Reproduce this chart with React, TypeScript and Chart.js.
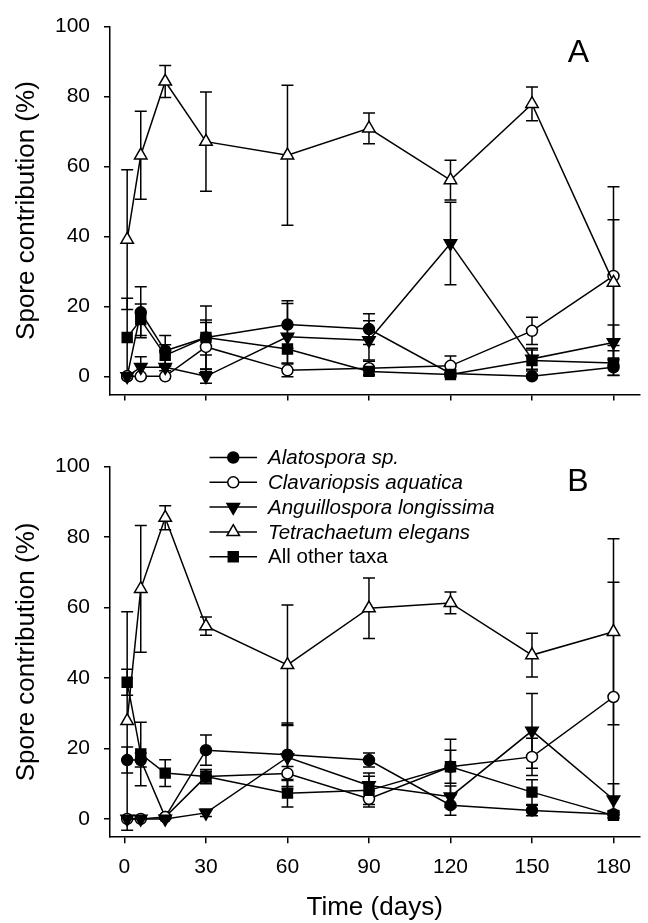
import React, { useEffect, useRef } from 'react';
import { Chart, registerables } from 'chart.js';

Chart.register(...registerables);

const FONT = "'Liberation Sans', Arial, Helvetica, sans-serif";

// ---------- data ----------
const days = [1, 6, 15, 30, 60, 90, 120, 150, 180];
const xTicks = [0, 30, 60, 90, 120, 150, 180];
const yTicks = [0, 20, 40, 60, 80, 100];
const seriesNames = ['Alatospora sp.', 'Clavariopsis aquatica', 'Anguillospora longissima', 'Tetrachaetum elegans', 'All other taxa'];
const italicNames = [true, true, true, true, false];

// Panel A
const alatA = [0, 18.3, 7.3, 11.1, 14.8, 13.5, 0.8, 0, 2.6];
const alatAErr = [0, 7.3, 4.4, 9, 6.8, 4.4, 1, 0.5, 2.4];
const clavA = [0, 0, 0, 8.4, 1.7, 2.3, 3, 13, 28.7];
const clavAErr = [0, 0, 0, 7, 1.8, 2, 2.8, 3.9, 25.5];
const anguA = [0, 2.6, 2.6, 0, 11.3, 10.3, 38, 5, 9.7];
const anguAErr = [0, 3, 1, 2, 9.5, 5.6, 11.8, 3, 5];
const tetrA = [39.1, 63.2, 84.3, 67.1, 63.2, 70.9, 56.1, 77.9, 26.8];
const tetrAErr = [20, 12.6, 4.6, 14.2, 20, 4.4, 5.7, 4.8, 18];
const otherA = [11.1, 16.2, 6, 11.1, 7.8, 1.4, 0.5, 4.5, 3.8];
const otherAErr = [11.2, 4.5, 3, 5, 4, 1, 0.5, 3, 3.5];

// Panel B
const alatB = [16.7, 16.7, 0.5, 19.5, 18.2, 16.7, 3.9, 2.4, 1.3];
const alatBErr = [3.7, 2, 0.5, 4.3, 9, 2, 2.9, 1.5, 1];
const clavB = [0, 0, 0.5, 12, 12.9, 5.7, 14.8, 17.6, 34.6];
const clavBErr = [0, 0, 0.5, 2, 2, 2.3, 4.7, 5.3, 32.6];
const anguB = [0, 0, 0, 1.7, 17.5, 9.5, 6.3, 25, 5.5];
const anguBErr = [0, 0, 0, 1, 9, 3.5, 3, 10.6, 4.5];
const tetrB = [27.8, 65.3, 85.5, 54.7, 43.7, 59.8, 61.3, 46.5, 53.1];
const tetrBErr = [31, 18, 3.4, 2.6, 17, 8.6, 3.1, 6.2, 26.4];
const otherB = [38.8, 18.4, 13, 12, 7.3, 8.1, 14.8, 7.6, 1];
const otherBErr = [3.7, 9, 3.8, 1.5, 3.9, 4, 7.8, 3.5, 0.8];

// ---------- styles ----------
const markerStyles = [
  { pointStyle: 'circle', fill: '#000', radius: 5.5, rotation: 0 },
  { pointStyle: 'circle', fill: '#fff', radius: 5.5, rotation: 0 },
  { pointStyle: 'triangle', fill: '#000', radius: 7.2, rotation: 180 },
  { pointStyle: 'triangle', fill: '#fff', radius: 7.2, rotation: 0 },
  { pointStyle: 'rect', fill: '#000', radius: 7, rotation: 0 },
];

const LW = 1.5;

function drawMarker(ctx: CanvasRenderingContext2D, style: string, x: number, y: number, r: number, rotDeg: number, fill: string) {
  ctx.save();
  ctx.fillStyle = fill;
  ctx.strokeStyle = '#000';
  ctx.lineWidth = LW;
  ctx.beginPath();
  if (style === 'circle') {
    ctx.arc(x, y, r, 0, Math.PI * 2);
  } else if (style === 'triangle') {
    let rad = (rotDeg * Math.PI) / 180;
    ctx.moveTo(x + Math.sin(rad) * r, y - Math.cos(rad) * r);
    rad += (2 * Math.PI) / 3;
    ctx.lineTo(x + Math.sin(rad) * r, y - Math.cos(rad) * r);
    rad += (2 * Math.PI) / 3;
    ctx.lineTo(x + Math.sin(rad) * r, y - Math.cos(rad) * r);
    ctx.closePath();
  } else {
    const s = r * Math.SQRT1_2;
    ctx.rect(x - s, y - s, 2 * s, 2 * s);
  }
  ctx.fill();
  ctx.stroke();
  ctx.restore();
}

const errorBarPlugin = {
  id: 'errorBars',
  beforeDatasetsDraw(chart: any) {
    const { ctx, chartArea, scales } = chart;
    const xs = scales.x;
    const ys = scales.y;
    ctx.save();
    ctx.beginPath();
    ctx.rect(chartArea.left, chartArea.top - 3, chartArea.right - chartArea.left + 3, chartArea.bottom - chartArea.top + 3);
    ctx.clip();
    ctx.strokeStyle = '#000';
    ctx.lineWidth = LW;
    chart.data.datasets.forEach((ds: any) => {
      const errs: number[] = ds.errorBars;
      if (!errs) return;
      ds.data.forEach((p: any, i: number) => {
        const e = errs[i];
        if (!e) return;
        const px = xs.getPixelForValue(p.x);
        const top = ys.getPixelForValue(p.y + e);
        const bot = ys.getPixelForValue(p.y - e);
        ctx.beginPath();
        ctx.moveTo(px, top);
        ctx.lineTo(px, bot);
        ctx.moveTo(px - 6, top);
        ctx.lineTo(px + 6, top);
        ctx.moveTo(px - 6, bot);
        ctx.lineTo(px + 6, bot);
        ctx.stroke();
      });
    });
    ctx.restore();
  },
};

const decorPlugin = {
  id: 'decor',
  afterDraw(chart: any) {
    const o = chart.options.plugins.decor;
    if (!o) return;
    const { ctx } = chart;
    ctx.save();
    ctx.fillStyle = '#000';
    ctx.font = `32px ${FONT}`;
    ctx.textAlign = 'center';
    ctx.textBaseline = 'middle';
    ctx.fillText(o.letter, o.letterX, o.letterY);
    if (o.legend) {
      const L = o.legend;
      chart.data.datasets.forEach((ds: any, i: number) => {
        const y = L.top + i * L.step;
        ctx.strokeStyle = '#000';
        ctx.lineWidth = LW;
        ctx.beginPath();
        ctx.moveTo(L.lineX0, y);
        ctx.lineTo(L.lineX1, y);
        ctx.stroke();
        const m = markerStyles[i];
        drawMarker(ctx, m.pointStyle, (L.lineX0 + L.lineX1) / 2, y, m.radius, m.rotation, m.fill);
        ctx.fillStyle = '#000';
        ctx.font = `${italicNames[i] ? 'italic ' : ''}20.5px ${FONT}`;
        ctx.textAlign = 'left';
        ctx.textBaseline = 'middle';
        ctx.fillText(ds.label, L.textX, y + 1);
      });
    }
    ctx.restore();
  },
};

type Panel = {
  top: number;
  height: number;
  areaTop: number;
  areaBottom: number;
  showXLabels: boolean;
  series: number[][];
  errors: number[][];
  letter: string;
  letterX: number;
  letterY: number;
  legend: any;
};

const panels: Panel[] = [
  {
    top: 0,
    height: 430,
    areaTop: 21,
    areaBottom: 394.5,
    showXLabels: false,
    series: [alatA, clavA, anguA, tetrA, otherA],
    errors: [alatAErr, clavAErr, anguAErr, tetrAErr, otherAErr],
    letter: 'A',
    letterX: 578.5,
    letterY: 53,
    legend: null,
  },
  {
    top: 440,
    height: 483,
    areaTop: 23.3,
    areaBottom: 397.2,
    showXLabels: true,
    series: [alatB, clavB, anguB, tetrB, otherB],
    errors: [alatBErr, clavBErr, anguBErr, tetrBErr, otherBErr],
    letter: 'B',
    letterX: 578,
    letterY: 42.5,
    legend: { top: 17.5, step: 24.8, lineX0: 209.5, lineX1: 257, textX: 268 },
  },
];

function makeConfig(p: Panel): any {
  const n = p.series.length;
  const datasets = p.series.map((vals, i) => {
    const m = markerStyles[i];
    return {
      label: seriesNames[i],
      data: days.map((d, j) => ({ x: d, y: vals[j] })),
      errorBars: p.errors[i],
      order: n - i,
      borderColor: '#000',
      borderWidth: LW,
      backgroundColor: m.fill,
      pointStyle: m.pointStyle,
      pointRadius: m.radius,
      pointRotation: m.rotation,
      pointBackgroundColor: m.fill,
      pointBorderColor: '#000',
      pointBorderWidth: LW,
      pointHoverRadius: m.radius,
      tension: 0,
      fill: false,
      clip: 8,
    };
  });
  return {
    type: 'line',
    data: { datasets },
    plugins: [errorBarPlugin, decorPlugin],
    options: {
      responsive: false,
      animation: false,
      events: [],
      layout: { padding: { top: p.areaTop, left: 0, right: 3, bottom: 0 } },
      plugins: {
        legend: { display: false },
        tooltip: { enabled: false },
        decor: { letter: p.letter, letterX: p.letterX, letterY: p.letterY, legend: p.legend },
      },
      scales: {
        x: {
          type: 'linear',
          min: -5.32,
          max: 189.5,
          afterBuildTicks: (s: any) => {
            s.ticks = xTicks.map((v) => ({ value: v }));
          },
          afterFit: (s: any) => {
            s.height = p.height - p.areaBottom;
          },
          grid: { display: true, drawOnChartArea: false, drawTicks: true, tickLength: 6, color: '#000', lineWidth: LW },
          border: { display: true, color: '#000', width: LW },
          ticks: {
            display: p.showXLabels,
            color: '#000',
            font: { family: FONT, size: 21 },
            padding: 11,
            maxRotation: 0,
            autoSkip: false,
          },
          title: {
            display: p.showXLabels,
            text: 'Time (days)',
            color: '#000',
            font: { family: FONT, size: 26 },
            padding: { top: 0, bottom: 0 },
          },
        },
        y: {
          type: 'linear',
          min: -5.2,
          max: 100,
          afterBuildTicks: (s: any) => {
            s.ticks = yTicks.map((v) => ({ value: v }));
          },
          afterFit: (s: any) => {
            s.width = 110;
          },
          grid: { display: true, drawOnChartArea: false, drawTicks: true, tickLength: 6, color: '#000', lineWidth: LW },
          border: { display: true, color: '#000', width: LW },
          ticks: {
            color: '#000',
            font: { family: FONT, size: 21 },
            padding: 14,
          },
          title: {
            display: true,
            text: 'Spore contribution (%)',
            color: '#000',
            font: { family: FONT, size: 26 },
            padding: { top: 11, bottom: 0 },
          },
        },
      },
    },
  };
}

function PanelChart({ p }: { p: Panel }) {
  const ref = useRef<HTMLCanvasElement | null>(null);
  useEffect(() => {
    if (!ref.current) return;
    const chart = new Chart(ref.current, makeConfig(p));
    return () => chart.destroy();
  }, [p]);
  return (
    <canvas
      ref={ref}
      width={648}
      height={p.height}
      style={{ position: 'absolute', left: 0, top: p.top, width: 648, height: p.height }}
    />
  );
}

export default function App() {
  return (
    <div style={{ position: 'absolute', left: 0, top: 0, width: 648, height: 923, background: '#fff' }}>
      {panels.map((p, i) => (
        <PanelChart key={i} p={p} />
      ))}
    </div>
  );
}
